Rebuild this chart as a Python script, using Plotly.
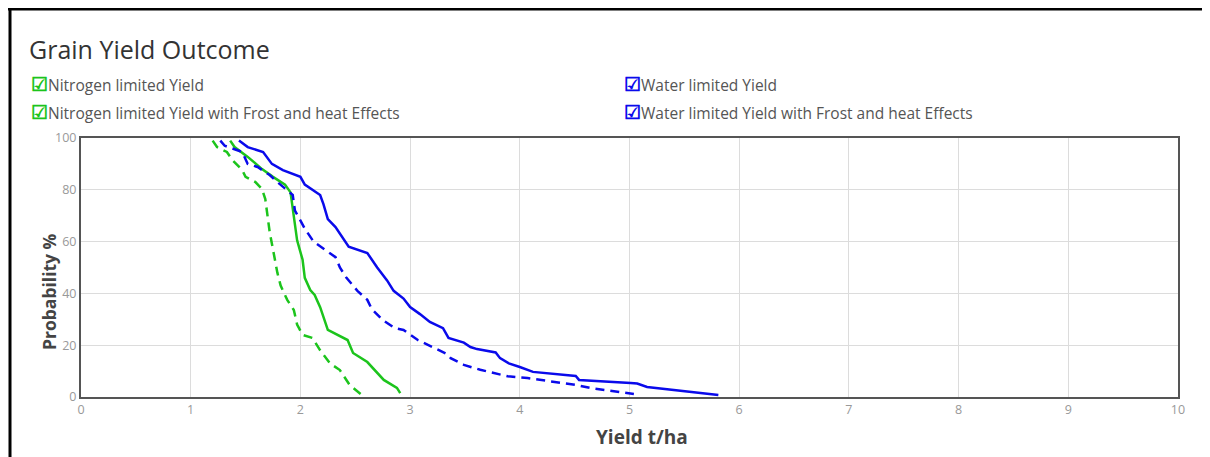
import plotly.graph_objects as go

# ---- data ----
water_x = [1.44, 1.52, 1.66, 1.74, 1.84, 1.93, 2.00, 2.04, 2.18, 2.21, 2.25, 2.32, 2.41, 2.44,
           2.61, 2.70, 2.79, 2.85, 2.94, 3.00, 3.09, 3.18, 3.30, 3.35, 3.49, 3.55, 3.61, 3.78,
           3.82, 3.90, 4.00, 4.12, 4.51, 4.54, 5.01, 5.07, 5.16, 5.81]
water_y = [99, 96.5, 94.6, 90, 87.6, 86, 85, 82, 78, 74.5, 68.7, 65.6, 60, 58,
           55.6, 50, 45, 41, 38, 34.7, 32, 29, 26.6, 22.8, 21, 19.3, 18.5, 17.2,
           15, 13, 11.6, 9.7, 8.1, 6.6, 5.4, 5.2, 3.9, 0.8]

water_fh_x = [1.27, 1.31, 1.47, 1.52, 1.61, 1.72, 1.79, 1.88, 1.93, 1.95, 2.04, 2.12, 2.25, 2.32,
              2.36, 2.42, 2.52, 2.61, 2.65, 2.75, 2.86, 2.94, 3.07, 3.21, 3.34, 3.37, 3.49, 3.64,
              3.89, 4.07, 4.31, 4.52, 4.64, 5.04]
water_fh_y = [99, 97, 94.6, 90, 88.8, 85.7, 83, 80, 78, 72, 65, 60, 56, 54,
              50, 46, 41, 37.5, 34, 29.7, 26.6, 25.9, 22, 19, 16.5, 15, 12.4, 10.5,
              8, 7.3, 5.8, 4.6, 3.5, 1.2]

nitro_x = [1.36, 1.40, 1.52, 1.65, 1.75, 1.86, 1.91, 1.93, 1.95, 1.97, 2.02, 2.04, 2.09, 2.13,
           2.18, 2.22, 2.25, 2.43, 2.48, 2.61, 2.70, 2.76, 2.88, 2.91]
nitro_y = [99, 96.5, 92.7, 88, 85, 82, 79, 72.6, 65, 60.5, 53, 46, 41.3, 39.4,
           34.7, 29.7, 25.9, 22, 17, 13.5, 9.3, 6.6, 3.5, 1.5]

nitro_fh_x = [1.20, 1.24, 1.33, 1.38, 1.47, 1.50, 1.59, 1.65, 1.68, 1.70, 1.72, 1.75, 1.79, 1.82,
              1.88, 1.94, 1.97, 2.02, 2.11, 2.18, 2.27, 2.36, 2.45, 2.56]
nitro_fh_y = [99, 96.5, 94.6, 91.5, 87.6, 85, 83, 80.3, 76.4, 70, 63.7, 57, 48, 43,
              37.5, 33.6, 28, 24, 22.8, 18, 13, 10.4, 4.6, 0.8]

series_names = ["Nitrogen limited Yield", "Water limited Yield",
                "Nitrogen limited Yield with Frost and heat Effects",
                "Water limited Yield with Frost and heat Effects"]
x_ticks = [0, 1, 2, 3, 4, 5, 6, 7, 8, 9, 10]
y_ticks = [0, 20, 40, 60, 80, 100]

GREEN = "rgb(28,196,28)"
BLUE = "rgb(10,10,235)"

# page is drawn with an 8px body margin -> work in page pixels, convert to figure pixels
OFF = 8
W, H = 1210 - OFF, 457 - OFF
ML = 81 - OFF
MT = 138 - OFF
MR = W - (1178 - OFF)
MB = H - (397 - OFF)
PW, PH = W - ML - MR, H - MT - MB


def px(xp):
    return (xp - OFF - ML) / PW


def py(yp):
    return (H - MB - (yp - OFF)) / PH


fig = go.Figure()
fig.add_trace(go.Scatter(x=nitro_x, y=nitro_y, mode="lines", name=series_names[0],
                         line=dict(color=GREEN, width=2.5)))
fig.add_trace(go.Scatter(x=nitro_fh_x, y=nitro_fh_y, mode="lines", name=series_names[2],
                         line=dict(color=GREEN, width=2.5, dash="9px,6px")))
fig.add_trace(go.Scatter(x=water_x, y=water_y, mode="lines", name=series_names[1],
                         line=dict(color=BLUE, width=2.5)))
fig.add_trace(go.Scatter(x=water_fh_x, y=water_fh_y, mode="lines", name=series_names[3],
                         line=dict(color=BLUE, width=2.5, dash="9px,6px")))

FONT = "Open Sans"
annotations = []
legend_items = [(series_names[0], GREEN, 29, 84), (series_names[2], GREEN, 29, 112),
                (series_names[1], BLUE, 622, 84), (series_names[3], BLUE, 622, 112)]
for name, col, xp, yp in legend_items:
    annotations.append(dict(xref="paper", yref="paper", x=px(xp), y=py(yp), xanchor="left",
                            yanchor="middle", showarrow=False,
                            text=f"<span style='color:{col};font-size:19px'><b>☑</b></span>{name}",
                            font=dict(family=FONT, size=15.5, color="#555")))
annotations.append(dict(xref="paper", yref="paper", x=px(49), y=py(292), xanchor="center",
                        yanchor="middle", showarrow=False, textangle=-90,
                        text="<b>Probability %</b>", font=dict(family=FONT, size=17.5, color="#444")))
annotations.append(dict(xref="paper", yref="paper", x=px(642), y=py(437), xanchor="center",
                        yanchor="middle", showarrow=False,
                        text="<b>Yield t/ha</b>", font=dict(family=FONT, size=19, color="#444")))

shapes = [
    dict(type="line", xref="paper", yref="paper", x0=px(8), x1=px(1230), y0=py(9), y1=py(9),
         line=dict(color="black", width=3)),
    dict(type="line", xref="paper", yref="paper", x0=px(10), x1=px(10), y0=py(8), y1=py(470),
         line=dict(color="black", width=3)),
]

fig.update_layout(
    width=W, height=H,
    margin=dict(l=ML, r=MR, t=MT, b=MB),
    paper_bgcolor="white", plot_bgcolor="white",
    showlegend=False,
    title=dict(text="Grain Yield Outcome", x=(29 - OFF) / W, xanchor="left", y=1 - (50 - OFF) / H,
               yanchor="middle", xref="container", yref="container",
               font=dict(family=FONT, size=25, color="#333")),
    annotations=annotations,
    shapes=shapes,
    xaxis=dict(range=[0, 10], tickvals=x_ticks, showgrid=True, gridcolor="#dcdcdc", gridwidth=1,
               showline=True, linecolor="#555", linewidth=2, mirror=True, zeroline=False,
               ticks="", tickfont=dict(family=FONT, size=12.5, color="#999")),
    yaxis=dict(range=[0, 100], tickvals=y_ticks, showgrid=True, gridcolor="#dcdcdc", gridwidth=1,
               showline=True, linecolor="#555", linewidth=2, mirror=True, zeroline=False,
               ticks="", tickfont=dict(family=FONT, size=12.5, color="#999")),
)

fig.write_html("out.html", config={"displayModeBar": False})
